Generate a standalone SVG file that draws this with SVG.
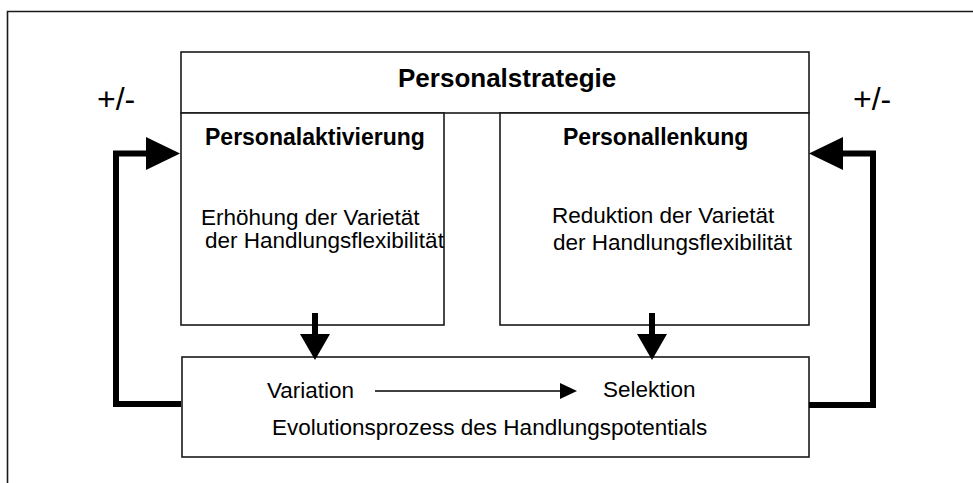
<svg xmlns="http://www.w3.org/2000/svg" width="973" height="483" viewBox="0 0 973 483">
<style>
.box{fill:#fff;stroke:#1a1a1a;stroke-width:1.6}
.t{font-family:"Liberation Sans",Arial,sans-serif;font-size:22.5px;fill:#000}
.b{font-weight:bold;font-size:23px}
.thick{fill:none;stroke:#000;stroke-width:6;stroke-linejoin:miter}
.thin{fill:none;stroke:#000;stroke-width:1.6}
.head{fill:#000}
</style>
<rect width="973" height="483" fill="#fff"/>
<path d="M7.5,483 V11.5 H973" fill="none" stroke="#1a1a1a" stroke-width="1.6"/>
<text class="t" x="97" y="110" style="font-size:32px">+/-</text>
<text class="t" x="853" y="110" style="font-size:32px">+/-</text>
<g id="personalstrategie">
<rect class="box" x="181" y="52" width="628" height="61"/>
<text class="t b" x="398" y="87" style="font-size:26px">Personalstrategie</text>
</g>
<g id="personalaktivierung">
<rect class="box" x="181" y="113" width="263" height="212"/>
<text class="t b" x="205" y="145">Personalaktivierung</text>
<text class="t" x="201" y="225">Erhöhung der Varietät</text>
<text class="t" x="205" y="248">der Handlungsflexibilität</text>
</g>
<g id="personallenkung">
<rect class="box" x="500" y="113" width="309" height="212"/>
<text class="t b" x="563" y="145">Personallenkung</text>
<text class="t" x="552" y="223">Reduktion der Varietät</text>
<text class="t" x="553" y="250">der Handlungsflexibilität</text>
</g>
<g id="evolutionsprozess">
<rect class="box" x="182" y="357" width="627" height="100"/>
<text class="t" x="267" y="398">Variation</text>
<text class="t" x="603" y="397">Selektion</text>
<text class="t" x="272" y="435">Evolutionsprozess des Handlungspotentials</text>
</g>
<g id="connectors">
<polyline class="thick" points="181,404 116,404 116,153.5 147,153.5"/>
<polygon class="head" points="146,137 180,153.5 146,170"/>
<polyline class="thick" points="809,405 873,405 873,153.5 842,153.5"/>
<polygon class="head" points="843,137 809,153.5 843,170"/>
<line class="thick" x1="315" y1="313" x2="315" y2="335"/>
<polygon class="head" points="300,334 330,334 315,360"/>
<line class="thick" x1="652" y1="313" x2="652" y2="335"/>
<polygon class="head" points="637,334 667,334 652,360"/>
<line class="thin" x1="375" y1="391" x2="562" y2="391"/>
<polygon class="head" points="560,383 577,391 560,399"/>
</g>
</svg>
